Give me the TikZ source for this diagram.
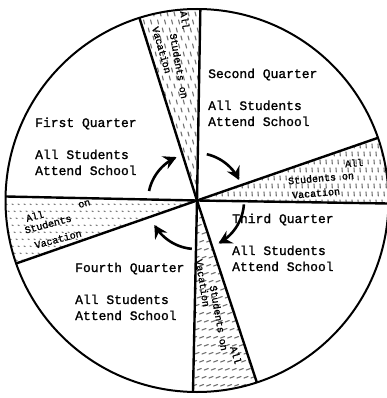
\documentclass[tikz,border=0pt]{standalone}
\usepackage{fontspec}
\newfontfamily\twfont{Liberation Mono}[FakeBold=1.2]
\usetikzlibrary{arrows.meta}
\newcommand\wedgeclip[2]{%
  \clip (197,200.5) circle[radius=191.5pt];
  \clip (197,200.5) -- ({197+260*cos(#1)},{200.5+260*sin(#1)})
        -- ({197+260*cos(#2)},{200.5+260*sin(#2)}) -- cycle;}
\begin{document}
\begin{tikzpicture}[x=1pt,y=-1pt,
  rim/.style={line width=2pt},
  spoke/.style={line width=2.4pt},
  hatch/.style={black!55,line width=1.1pt,line cap=round},
  cyc/.style={line width=2.6pt,-{Stealth[length=13pt,width=14pt,inset=4.5pt]}},
  lbl/.style={font=\twfont\fontsize{13}{16}\selectfont,anchor=base west,inner sep=0pt},
  wlbl/.style={font=\twfont\fontsize{10}{12}\selectfont,inner sep=0pt}]
\useasboundingbox (0,0) rectangle (386,398);
\fill[white] (0,0) rectangle (386,398);
\coordinate (C) at (197,200.5);
% spoke end points
\foreach \n/\a in {Vt/-89,Vb/91.2,Dt/-107.5,Db/71.8,Hl/181.2,Hr/0.9,Er/-19.1,El/160.8}
  \coordinate (\n) at ({197+191.5*cos(\a)},{200.5+191.5*sin(\a)});
% hatching of the vacation wedges
\begin{scope}
  \wedgeclip{-107.5}{-89}
  \foreach \x in {132,139,...,206} \foreach \y in {4,12,...,204}
    \draw[hatch] ({\x+mod(\y,3)*2.3},\y) -- ++(1,4);
\end{scope}
\begin{scope}
  \wedgeclip{-19.1}{0.9}
  \foreach \x in {192,198,...,392} \foreach \y in {128,136,...,206}
    \draw[hatch] ({\x+mod(\y,3)*2},\y) -- ++(0.3,4);
\end{scope}
\begin{scope}
  \wedgeclip{71.8}{91.2}
  \foreach \x in {188,195,...,266} \foreach \y in {194,202,...,398}
    \draw[hatch] ({\x+mod(\y,3)*2.3},\y) -- ++(4,-1.5);
\end{scope}
\begin{scope}
  \wedgeclip{160.8}{181.2}
  \foreach \x in {0,6,...,202} \foreach \y in {190,197,...,270}
    \draw[hatch] ({\x+mod(\y,3)*2},\y) -- ++(1.2,0.6);
\end{scope}
% circle and spokes
\draw[rim] (C) circle[radius=191.5pt];
\draw[spoke] (Vt) -- (C) -- (Vb);
\draw[spoke] (Dt) -- (C) -- (Db);
\draw[spoke] (Hl) -- (C) -- (Hr);
\draw[spoke] (Er) -- (C) -- (El);
% cycle arrows
\draw[cyc] plot[domain=168:114,samples=30] ({196+48*cos(\x)},{201-48*sin(\x)});
\draw[cyc] plot[domain=77:26,samples=30] ({196+48*cos(\x)},{201-48*sin(\x)});
\draw[cyc] plot[domain=-4:-62,samples=30] ({196+48*cos(\x)},{201-48*sin(\x)});
\draw[cyc] plot[domain=-95:-150,samples=30] ({196+48*cos(\x)},{201-48*sin(\x)});
% quarter labels
\node[lbl] (q1t) at (35,127) {First Quarter};
\node[lbl] (q1a) at (35,159) {All Students};
\node[lbl] (q1b) at (35,175) {Attend School};
\node[lbl] (q2t) at (208,78) {Second Quarter};
\node[lbl] (q2a) at (208,110) {All Students};
\node[lbl] (q2b) at (208,126) {Attend School};
\node[lbl] (q3t) at (232,223) {Third Quarter};
\node[lbl] (q3a) at (232,255) {All Students};
\node[lbl] (q3b) at (232,271) {Attend School};
\node[lbl] (q4t) at (75,272) {Fourth Quarter};
\node[lbl] (q4a) at (75,304) {All Students};
\node[lbl] (q4b) at (75,320) {Attend School};
% vacation labels
\node[wlbl,rotate=-82] (v1a) at (185,20) {All};
\node[wlbl,rotate=-80] (v1b) at (179,66) {Students on};
\node[wlbl,rotate=-74] (v1c) at (162,50) {Vacation};
\node[wlbl,rotate=5] (v3a) at (354,163) {All};
\node[wlbl,rotate=5] (v3b) at (321,178) {Students on};
\node[wlbl,rotate=5] (v3c) at (316,193) {Vacation};
\node[wlbl,rotate=-74] (v2a) at (236,355) {All};
\node[wlbl,rotate=-80] (v2b) at (219,318) {Students on};
\node[wlbl,rotate=-81] (v2c) at (203,283) {Vacation};
\node[wlbl,rotate=15] (v4a) at (58,210) {All\phantom{Studen}on};
\node[wlbl,rotate=15] (v4b) at (48,224) {Students};
\node[wlbl,rotate=15] (v4c) at (58,239) {Vacation};
\end{tikzpicture}
\end{document}
